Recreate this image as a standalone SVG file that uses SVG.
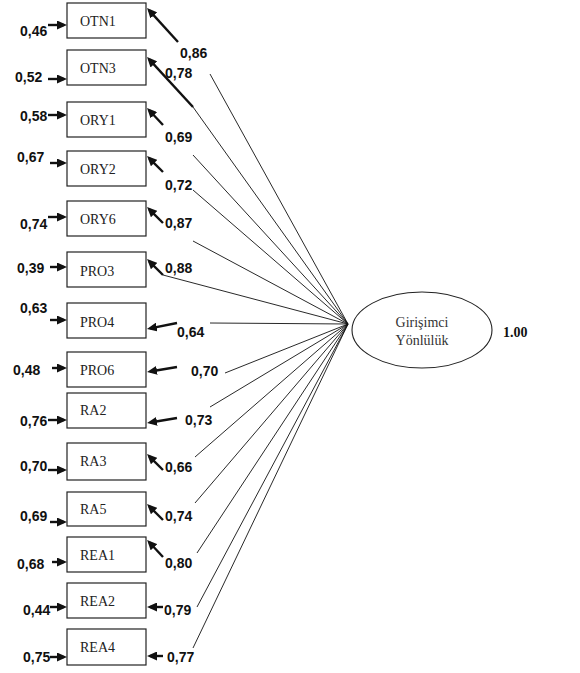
<svg xmlns="http://www.w3.org/2000/svg" width="580" height="673" viewBox="0 0 580 673">
<style>
.box{fill:#fff;stroke:#222;stroke-width:1.2}
.bt{font-family:"Liberation Serif",serif;font-size:14px;fill:#222}
.lb{font-family:"Liberation Sans",sans-serif;font-size:14px;font-weight:bold;fill:#111}
.thin{stroke:#111;stroke-width:0.9;fill:none}
.thick{stroke:#111;stroke-width:2.4;fill:none;marker-end:url(#ah)}
.et{font-family:"Liberation Serif",serif;font-size:14px;fill:#333;text-anchor:middle}
.one{font-family:"Liberation Serif",serif;font-size:14px;font-weight:bold;fill:#111}
</style>
<defs>
<marker id="ah" viewBox="0 0 10 10" refX="6.8" refY="5" markerWidth="10" markerHeight="9" markerUnits="userSpaceOnUse" orient="auto" preserveAspectRatio="none">
<path d="M0,0 L10,5 L0,10 z" fill="#111"/>
</marker>
</defs>
<rect width="580" height="673" fill="#fff"/>

<g id="OTN1"><rect class="box" x="67" y="3" width="79" height="35"/><text class="bt" x="80" y="26">OTN1</text></g>
<g id="OTN3"><rect class="box" x="67" y="50" width="79" height="35"/><text class="bt" x="80" y="73">OTN3</text></g>
<g id="ORY1"><rect class="box" x="67" y="102" width="79" height="35"/><text class="bt" x="80" y="125">ORY1</text></g>
<g id="ORY2"><rect class="box" x="67" y="151" width="79" height="35"/><text class="bt" x="80" y="174">ORY2</text></g>
<g id="ORY6"><rect class="box" x="67" y="201" width="79" height="35"/><text class="bt" x="80" y="224">ORY6</text></g>
<g id="PRO3"><rect class="box" x="67" y="252" width="79" height="35"/><text class="bt" x="80" y="276">PRO3</text></g>
<g id="PRO4"><rect class="box" x="67" y="303" width="79" height="35"/><text class="bt" x="80" y="327">PRO4</text></g>
<g id="PRO6"><rect class="box" x="67" y="352" width="79" height="35"/><text class="bt" x="80" y="375">PRO6</text></g>
<g id="RA2"><rect class="box" x="67" y="393" width="79" height="35"/><text class="bt" x="80" y="415">RA2</text></g>
<g id="RA3"><rect class="box" x="67" y="443" width="79" height="37"/><text class="bt" x="80" y="466">RA3</text></g>
<g id="RA5"><rect class="box" x="67" y="492" width="79" height="34"/><text class="bt" x="80" y="514">RA5</text></g>
<g id="REA1"><rect class="box" x="67" y="537" width="79" height="35"/><text class="bt" x="80" y="560">REA1</text></g>
<g id="REA2"><rect class="box" x="67" y="583" width="79" height="35"/><text class="bt" x="80" y="606">REA2</text></g>
<g id="REA4"><rect class="box" x="67" y="629" width="79" height="36"/><text class="bt" x="80" y="652">REA4</text></g>

<g id="GirisimciYonluluk">
<ellipse cx="422" cy="330" rx="70" ry="38" fill="#fff" stroke="#222" stroke-width="1.1"/>
<text class="et" x="422" y="327">Girişimci</text>
<text class="et" x="422" y="345">Yönlülük</text>
<text class="one" x="503" y="337">1.00</text>
</g>

<g id="connectors">
<g id="loading-lines">
<line class="thin" x1="348" y1="324" x2="210" y2="74"/>
<line class="thin" x1="348" y1="324" x2="193" y2="107"/>
<line class="thin" x1="348" y1="324" x2="193" y2="155"/>
<line class="thin" x1="348" y1="324" x2="193" y2="190"/>
<line class="thin" x1="348" y1="324" x2="193" y2="241"/>
<line class="thin" x1="348" y1="324" x2="163" y2="275"/>
<line class="thin" x1="348" y1="324" x2="210" y2="323"/>
<line class="thin" x1="348" y1="324" x2="225" y2="373"/>
<line class="thin" x1="348" y1="324" x2="210" y2="407"/>
<line class="thin" x1="348" y1="324" x2="195" y2="457"/>
<line class="thin" x1="348" y1="324" x2="195" y2="503"/>
<line class="thin" x1="348" y1="324" x2="197" y2="553"/>
<line class="thin" x1="348" y1="324" x2="197" y2="607"/>
<line class="thin" x1="348" y1="324" x2="193" y2="648"/>
</g>
<g id="loading-arrows">
<line class="thick" x1="178" y1="42" x2="149.2" y2="10.4"/>
<line class="thick" x1="193" y1="107" x2="149.2" y2="59.4"/>
<line class="thick" x1="163" y1="125" x2="149.2" y2="110.3"/>
<line class="thick" x1="163" y1="172" x2="149.3" y2="158.3"/>
<line class="thick" x1="163" y1="223" x2="149.3" y2="209.3"/>
<line class="thick" x1="163" y1="275" x2="149.3" y2="261.3"/>
<line class="thick" x1="177" y1="323" x2="150.1" y2="328.4"/>
<line class="thick" x1="177" y1="367" x2="150.2" y2="371.5"/>
<line class="thick" x1="177" y1="418" x2="150.2" y2="422.5"/>
<line class="thick" x1="163" y1="470" x2="149.3" y2="456.3"/>
<line class="thick" x1="163" y1="520" x2="149.3" y2="506.3"/>
<line class="thick" x1="163" y1="557" x2="149.3" y2="542.3"/>
<line class="thick" x1="163" y1="607" x2="150.2" y2="607"/>
<line class="thick" x1="163" y1="656" x2="150.2" y2="656"/>
</g>
<g id="error-arrows">
<line class="thick" x1="48" y1="25" x2="63.8" y2="25"/>
<line class="thick" x1="48" y1="79" x2="63.8" y2="79"/>
<line class="thick" x1="48" y1="115" x2="63.8" y2="115"/>
<line class="thick" x1="50" y1="163" x2="63.8" y2="163"/>
<line class="thick" x1="48" y1="217" x2="63.8" y2="217"/>
<line class="thick" x1="50" y1="267" x2="63.8" y2="267"/>
<line class="thick" x1="50" y1="320" x2="63.8" y2="320"/>
<line class="thick" x1="52" y1="368" x2="63.8" y2="368"/>
<line class="thick" x1="48" y1="420" x2="63.8" y2="420"/>
<line class="thick" x1="48" y1="470" x2="63.8" y2="470"/>
<line class="thick" x1="50" y1="522" x2="63.8" y2="522"/>
<line class="thick" x1="52" y1="562" x2="63.8" y2="562"/>
<line class="thick" x1="50" y1="607" x2="63.8" y2="607"/>
<line class="thick" x1="50" y1="657" x2="63.8" y2="657"/>
</g>
<g id="loading-labels">
<text class="lb" x="180" y="58">0,86</text>
<text class="lb" x="165" y="78">0,78</text>
<text class="lb" x="165" y="142">0,69</text>
<text class="lb" x="165" y="190">0,72</text>
<text class="lb" x="165" y="228">0,87</text>
<text class="lb" x="165" y="273">0,88</text>
<text class="lb" x="177" y="337">0,64</text>
<text class="lb" x="191" y="376">0,70</text>
<text class="lb" x="185" y="425">0,73</text>
<text class="lb" x="165" y="472">0,66</text>
<text class="lb" x="165" y="521">0,74</text>
<text class="lb" x="165" y="568">0,80</text>
<text class="lb" x="164" y="615">0,79</text>
<text class="lb" x="167" y="662">0,77</text>
</g>
<g id="error-labels">
<text class="lb" x="20" y="36">0,46</text>
<text class="lb" x="15" y="82">0,52</text>
<text class="lb" x="20" y="121">0,58</text>
<text class="lb" x="17" y="162">0,67</text>
<text class="lb" x="20" y="229">0,74</text>
<text class="lb" x="17" y="273">0,39</text>
<text class="lb" x="20" y="313">0,63</text>
<text class="lb" x="13" y="375">0,48</text>
<text class="lb" x="20" y="426">0,76</text>
<text class="lb" x="20" y="471">0,70</text>
<text class="lb" x="20" y="521">0,69</text>
<text class="lb" x="17" y="569">0,68</text>
<text class="lb" x="23" y="615">0,44</text>
<text class="lb" x="23" y="662">0,75</text>
</g>
</g>
</svg>
